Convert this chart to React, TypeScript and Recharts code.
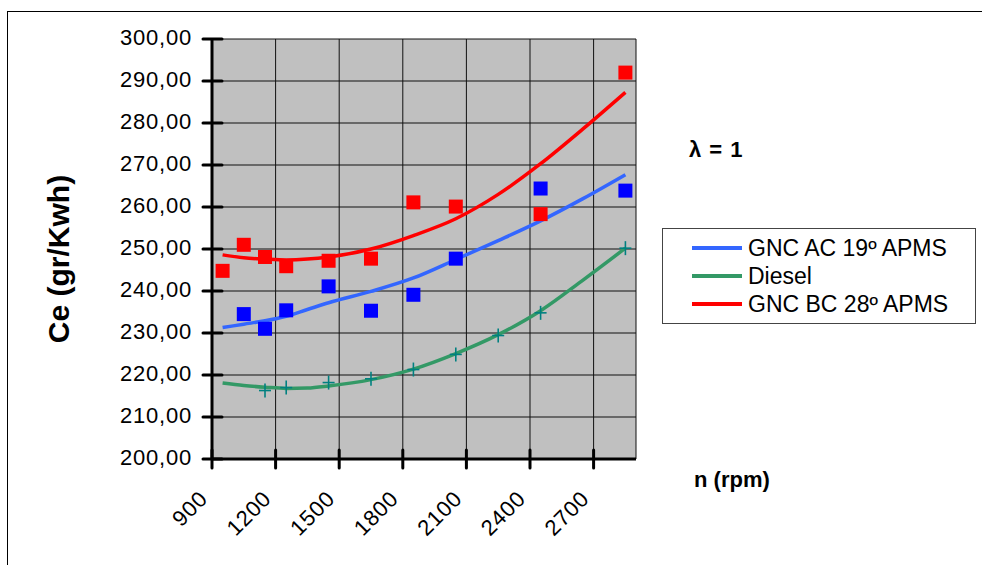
import React from 'react';
import { ComposedChart, Scatter, Line, XAxis, YAxis, CartesianGrid } from 'recharts';

// ---- data ----
const xTicks = [900, 1200, 1500, 1800, 2100, 2400, 2700];
const yTicks = [200, 210, 220, 230, 240, 250, 260, 270, 280, 290, 300];

const seriesNames = ['GNC AC 19º APMS', 'Diesel', 'GNC BC 28º APMS'];
const seriesLineColors = ['#3366ff', '#339966', '#ff0000'];

// measured points
const gncAcRpm = [1050, 1150, 1250, 1450, 1650, 1850, 2050, 2450, 2850];
const gncAcValues = [234.5, 231.0, 235.4, 241.1, 235.3, 239.1, 247.7, 264.4, 263.9];

const dieselRpm = [1150, 1250, 1450, 1650, 1850, 2050, 2250, 2450, 2850];
const dieselValues = [216.3, 217.0, 218.2, 219.1, 221.3, 224.9, 229.4, 234.8, 250.2];

const gncBcRpm = [950, 1050, 1150, 1250, 1450, 1650, 1850, 2050, 2450, 2850];
const gncBcValues = [244.8, 251.0, 248.1, 245.9, 247.2, 247.7, 261.1, 260.1, 258.3, 292.0];

// trend lines
const trendRpm = [950, 1050, 1150, 1250, 1350, 1450, 1650, 1850, 2050, 2250, 2450, 2650, 2850];
const gncAcTrend = [231.3, 232.1, 232.9, 234.0, 235.6, 237.2, 239.9, 243.1, 247.5, 252.0, 256.7, 262.0, 267.7];
const dieselTrend = [218.1, 217.5, 217.1, 216.8, 216.9, 217.4, 218.9, 221.4, 225.1, 229.6, 235.3, 242.6, 250.2];
const gncBcTrend = [248.6, 247.9, 247.6, 247.4, 247.6, 248.1, 250.0, 253.2, 257.2, 263.0, 270.3, 278.6, 287.3];

const toPts = (xs: number[], ys: number[]) => xs.map((x, i) => ({ x, y: ys[i] }));

const gncAcData = toPts(gncAcRpm, gncAcValues);
const dieselData = toPts(dieselRpm, dieselValues);
const gncBcData = toPts(gncBcRpm, gncBcValues);
const gncAcTrendData = toPts(trendRpm, gncAcTrend);
const dieselTrendData = toPts(trendRpm, dieselTrend);
const gncBcTrendData = toPts(trendRpm, gncBcTrend);

const FONT = '"Liberation Sans", Arial, sans-serif';
const Y_MARGIN = 20;
const X_MARGIN = 10;

const fmt = (v: number) => v.toFixed(2).replace('.', ',');

const YTick = (props: any) => {
  const { x, y, payload } = props;
  const ax = x + Y_MARGIN;
  return (
    <g>
      <line x1={ax - 9} x2={ax + 10} y1={y} y2={y} stroke="#000" strokeWidth={3} strokeLinecap="round" />
      <text x={x} y={y} dy={6} textAnchor="end" fontSize={22} letterSpacing={0.8} fontFamily={FONT} fill="#000">
        {fmt(payload.value)}
      </text>
    </g>
  );
};

const XTick = (props: any) => {
  const { x, y, payload } = props;
  const ay = y - X_MARGIN;
  const tx = x - 3;
  const ty = ay + 41;
  return (
    <g>
      <line x1={x} x2={x} y1={ay - 9} y2={ay + 9} stroke="#000" strokeWidth={3} strokeLinecap="round" />
      <text x={tx} y={ty} textAnchor="end" fontSize={22} letterSpacing={0.8} fontFamily={FONT} fill="#000"
        transform={`rotate(-45, ${tx}, ${ty})`}>
        {payload.value}
      </text>
    </g>
  );
};

const Square = (color: string) => (props: any) => {
  const { cx, cy } = props;
  return <rect x={cx - 7} y={cy - 7} width={14} height={14} fill={color} />;
};

const Plus = (props: any) => {
  const { cx, cy } = props;
  return (
    <g stroke="#008080" strokeWidth={1.6}>
      <line x1={cx - 6} x2={cx + 6} y1={cy} y2={cy} />
      <line x1={cx} x2={cx} y1={cy - 7} y2={cy + 7} />
    </g>
  );
};

export default function App() {
  return (
    <div style={{ position: 'absolute', left: 0, top: 0, width: 982, height: 565, overflow: 'hidden', background: '#fff' }}>
      <div style={{ position: 'absolute', left: 7, top: 11, width: 3000, height: 3000, borderTop: '1px solid #000', borderLeft: '1px solid #000' }} />
      <div style={{ position: 'absolute', left: 0, top: 0 }}>
        <ComposedChart width={982} height={565} margin={{ top: 39, right: 346, bottom: 46, left: 0 }}>
          <CartesianGrid fill="#c0c0c0" stroke="#111" strokeWidth={1} />
          <XAxis type="number" dataKey="x" domain={[900, 2900]} ticks={xTicks} allowDataOverflow
            height={60} tickLine={false} tickSize={0} tickMargin={X_MARGIN} tick={<XTick />}
            axisLine={{ stroke: '#000', strokeWidth: 3 }} interval={0} />
          <YAxis type="number" dataKey="y" domain={[200, 300]} ticks={yTicks} allowDataOverflow
            width={212} tickLine={false} tickSize={0} tickMargin={Y_MARGIN} tick={<YTick />}
            axisLine={{ stroke: '#000', strokeWidth: 3 }} interval={0} />
          <Scatter data={gncBcData} shape={Square('#ff0000')} isAnimationActive={false} />
          <Scatter data={gncAcData} shape={Square('#0000ff')} isAnimationActive={false} />
          <Line data={gncBcTrendData} dataKey="y" type="monotone" stroke={seriesLineColors[2]} strokeWidth={3.5} dot={false} isAnimationActive={false} />
          <Line data={gncAcTrendData} dataKey="y" type="monotone" stroke={seriesLineColors[0]} strokeWidth={3.5} dot={false} isAnimationActive={false} />
          <Line data={dieselTrendData} dataKey="y" type="monotone" stroke={seriesLineColors[1]} strokeWidth={3.5} dot={false} isAnimationActive={false} />
          <Scatter data={dieselData} shape={Plus} isAnimationActive={false} />
        </ComposedChart>
      </div>
      <svg width={982} height={565} style={{ position: 'absolute', left: 0, top: 0, pointerEvents: 'none' }}>
        <text x={69} y={259} textAnchor="middle" fontSize={30} fontWeight="bold" fontFamily={FONT}
          transform="rotate(-90, 69, 259)">Ce (gr/Kwh)</text>
        <text x={689} y={157} fontSize={22} fontWeight="bold" fontFamily={FONT} letterSpacing={1}>λ = 1</text>
        <text x={694} y={487} fontSize={22} fontWeight="bold" fontFamily={FONT}>n (rpm)</text>
      </svg>
      <div style={{ position: 'absolute', left: 662, top: 228, width: 314, height: 96, border: '1px solid #444', boxSizing: 'border-box', background: '#fff' }}>
        {seriesNames.map((name, i) => (
          <div key={name} style={{ position: 'absolute', left: 29, top: 5 + i * 28, height: 28, display: 'flex', alignItems: 'center' }}>
            <div style={{ width: 50, height: 4, background: seriesLineColors[i], marginRight: 6 }} />
            <span style={{ fontFamily: FONT, fontSize: 23, color: '#000', lineHeight: '28px' }}>{name}</span>
          </div>
        ))}
      </div>
    </div>
  );
}
